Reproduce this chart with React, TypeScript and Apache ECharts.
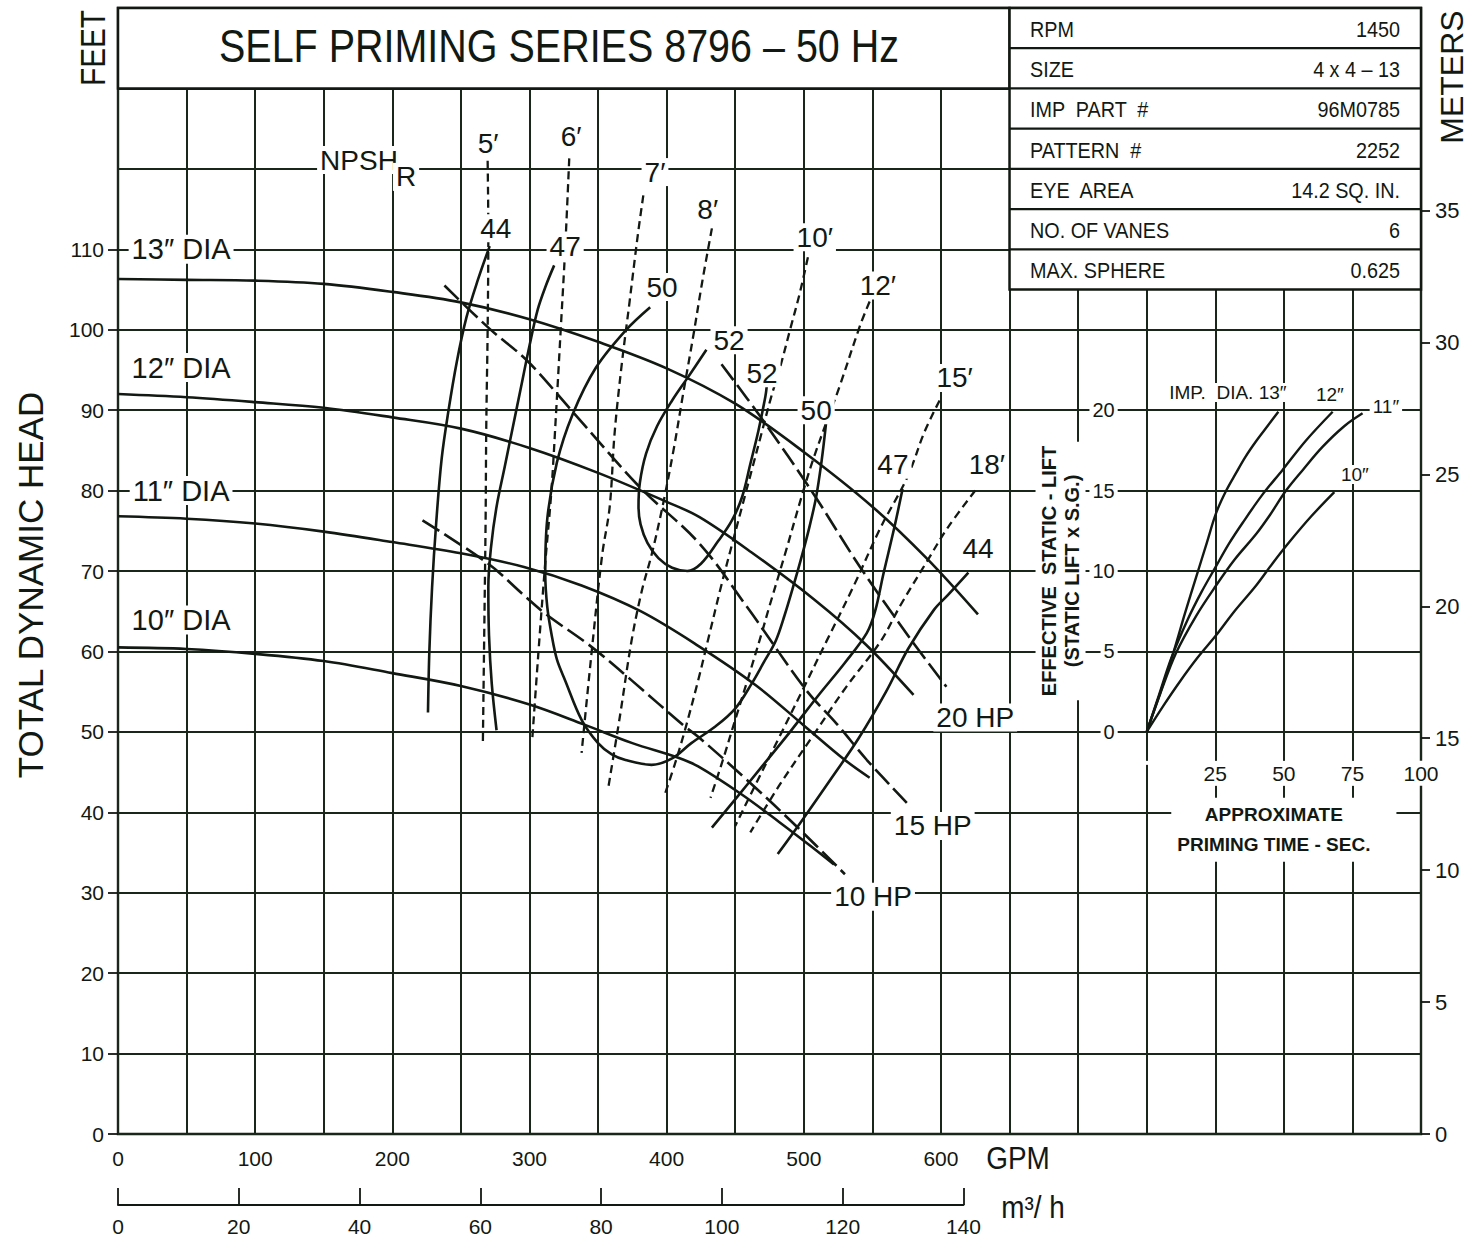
import React, { useEffect, useRef } from "react";
import * as echarts from "echarts";

// ---------- DATA (GPM, feet) ----------
const HEAD_13 = [[0,106.3],[50,106.2],[100,106.1],[150,105.7],[200,104.7],[250,103.4],[300,101.3],[350,98.5],[400,95.2],[450,90.8],[500,84.8],[550,78],[590,71.5],[627,64.6]];
const HEAD_12 = [[0,92],[50,91.6],[100,91],[150,90.3],[200,89.1],[250,87.7],[300,85.3],[350,82.2],[400,78.6],[424,76.7],[462,72.3],[508,66.4],[545,60.9],[580,54.6]];
const HEAD_11 = [[0,76.8],[50,76.5],[100,75.9],[150,74.9],[200,73.6],[250,72.2],[296,70.5],[338,68.2],[381,65],[423,60.7],[465,55.8],[500,50.8],[530,46.5],[548,44.3]];
const HEAD_10 = [[0,60.5],[50,60.3],[100,59.7],[150,58.8],[200,57.3],[250,55.7],[300,53.4],[340,50.9],[375,48.6],[408,46.8],[423,45.7],[454,42.3],[482,38.8],[505,35.8],[522,33.5]];

const EFF_44_LEFT = [[226,52.4],[227,60],[229,68],[232,76],[236,84],[241,90],[247,96],[254,101.5],[262,106],[271,110.4]];
const EFF_47_LEFT = [[276,50.2],[272.5,56],[270.5,62],[270,68],[272,73],[276,78],[282,83],[288,88],[294,93],[300,98],[306,102.5],[312,105.5],[318,108]];
const EFF_50 = [[388,102.8],[370,99.9],[348.5,95.3],[331.5,89.5],[320,83.5],[313,76.5],[311.5,69.7],[313,65.5],[316,62.2],[320,59],[326,56.4],[338,51.5],[350,48.6],[360,47.2],[370,46.5],[389,45.9],[404,46.7],[418,48.6],[435,50.6],[450,52.9],[462,56],[471,58.7],[479.5,61.3],[486,64.5],[492,67.9],[498,71.5],[504,75.4],[509,79.2],[513,83.7],[516,88],[517,90]];
const EFF_52 = [[429,97.5],[416,94.2],[404,91.2],[393,88],[385,84.6],[380.5,81],[379.5,78],[381,75.8],[386,73.5],[394,71.6],[404,70.4],[415,70],[425,70.9],[437.7,73.75],[447.5,76.25],[455,79.2],[461,83.3],[467,87.5],[472,91.7],[473,93]];
const EFF_47_RIGHT = [[433,38.1],[450,41.6],[470,45.8],[490,50],[510,54.4],[530,58.6],[546,62.3],[552,65],[558,69.6],[566,75.4],[572,80.2]];
const EFF_44_RIGHT = [[481,34.8],[500,39.3],[520,44.2],[540,49.2],[560,55],[576,60.3],[595,65.2],[605,67],[620,69.8]];

const NPSH_5 = [[269.5,121],[270,112],[269.5,100],[268.5,88],[268,76],[267,62],[266,48.3]];
const NPSH_6 = [[329,121.3],[326,110],[323,100.7],[319.5,90],[316,80],[311.5,71],[307,61],[302,49]];
const NPSH_7 = [[383,116.7],[379,111.8],[373,103.5],[367,95.3],[362,87],[358.5,78],[353,72],[345.5,60.2],[338,47.4]];
const NPSH_8 = [[433,112.6],[426,106],[419.6,99.4],[412,92],[405,85],[397,78],[389,72],[382,67.6],[374.5,61.4],[366,52],[357.6,43.2]];
const NPSH_10 = [[503,109],[497,104.5],[490,100],[483,95.5],[476,91.5],[469,87],[462,82.5],[455,78],[448,73.5],[440,68.3],[431,62],[423,56.4],[413,50],[406,46],[399,42.4]];
const NPSH_12 = [[548,103.5],[541,100.5],[526,92.9],[516.5,88.5],[506.6,83.75],[499,79.6],[487,72.5],[474.6,65.4],[469.7,62.5],[460,57],[450,51.5],[441,46.5],[432,41.8]];
const NPSH_15 = [[599,91.2],[588,87.3],[575.6,81.7],[556,75.4],[536,68],[516.5,61.25],[500,55.5],[482,49.3],[465,43.5],[450,38.3]];
const NPSH_18 = [[625,80],[605,75.4],[590,71.25],[570.7,65.8],[556,61.25],[531,55.6],[506.6,49.5],[482,43.3],[461,37.5]];

const HP_20 = [[440,95.7],[470,88.8],[507,79.6],[541,70.5],[578,61.5],[604,55.6]];
const HP_15 = [[238,105.5],[271,100.1],[298,96.2],[331.5,89.8],[380,80.5],[424,73.4],[460,65.2],[501.7,55.2],[524,51],[546,46.5],[576,41]];
const HP_10 = [[222,76.3],[270,70.9],[294.5,67.2],[311.5,64.7],[345,60.6],[374.5,56.4],[413,50.7],[423,49.4],[460,43.8],[495,38.2],[530,32.3]];

// priming inset (seconds, effective static lift)
const PRIME_13 = [[0,0],[4.5,2.2],[9.5,4.8],[14,7.4],[18,9.6],[22,11.8],[25.3,13.6],[29,15],[32.6,16.1],[36,17.1],[40,18.1],[44,19],[48,19.9]];
const PRIME_12 = [[0,0],[4.5,2.3],[9,4.6],[15,7],[20,8.7],[25.3,10.3],[30,11.7],[35,13],[42,14.7],[49.6,16.3],[58,18.1],[67.8,19.9]];
const PRIME_11 = [[0,0],[5,2.4],[10.7,4.9],[18,7.2],[25.3,9.1],[32,10.7],[39.9,12.3],[45,13.5],[50.8,15],[57,16.3],[64,17.7],[72,19],[78.7,19.8]];
const PRIME_10 = [[0,0],[6,1.6],[12,3.1],[18.5,4.6],[25.3,6],[32,7.5],[39.9,9.1],[46,10.5],[52,11.8],[60,13.4],[68.4,14.9]];

const DIA_LABELS: [number, number, string][] = [[46,110,"13″ DIA"],[46,95.3,"12″ DIA"],[46,80,"11″ DIA"],[46,63.9,"10″ DIA"]];
const EFF_LABELS: [number, number, string][] = [[275.5,112.6,"44"],[326,110.3,"47"],[396.6,105.3,"50"],[445.5,98.7,"52"],[469.5,94.6,"52"],[509,90,"50"],[565,83.2,"47"],[627,72.8,"44"]];
const NPSH_LABELS: [number, number, string][] = [[269.8,123.2,"5′"],[330.3,124,"6′"],[391.5,119.6,"7′"],[430,114.9,"8′"],[508,111.5,"10′"],[554,105.5,"12′"],[610,94,"15′"],[633.5,83.2,"18′"]];
const HP_LABELS: [number, number, string][] = [[625,51.8,"20 HP"],[594,38.3,"15 HP"],[550.5,29.5,"10 HP"]];
const NPSHR_TEXT: [number, number, string][] = [[175.7,121.1,"NPSH"],[210,119,"R"]];
const INSET_LABELS: [number, number, string][] = [[29.6,21.1,"IMP.  DIA. 13″"],[66.8,21,"12″"],[87.2,20.2,"11″"],[75.9,16,"10″"]];

const TABLE_ROWS: [string, string][] = [["RPM","1450"],["SIZE","4 x 4 – 13"],["IMP  PART  #","96M0785"],["PATTERN  #","2252"],["EYE  AREA","14.2 SQ. IN."],["NO. OF VANES","6"],["MAX. SPHERE","0.625"]];
const TITLE = "SELF PRIMING SERIES 8796 – 50 Hz";

const FONT = "Liberation Sans, Arial, Helvetica, sans-serif";
const INK = "#121812";
const GRIDC = "#1b261b";

// layout
const L = 118, R = 1421, T = 8, B = 1134;
const PXF = (B - T) / 140; // px per foot
const PXG = (R - L) / 950; // px per GPM

export default function App() {
  const ref = useRef<HTMLDivElement>(null);
  useEffect(() => {
    document.body.style.margin = "0";
    if (!ref.current) return;
    const chart = echarts.init(ref.current, undefined, { renderer: "svg" });

    const mkLine = (data: number[][], kind: string, xi = 0, yi = 0, w = 2.6) => ({
      type: "line",
      data,
      xAxisIndex: xi,
      yAxisIndex: yi,
      smooth: 0.35,
      symbol: "none",
      silent: true,
      z: 3,
      lineStyle: { color: INK, width: w, type: kind === "solid" ? "solid" : kind === "npsh" ? [8, 5] : [20, 6] },
    });
    const mkLabels = (arr: [number, number, string][], fontSize: number, xi = 0, yi = 0, extra: any = {}) => ({
      type: "scatter",
      xAxisIndex: xi,
      yAxisIndex: yi,
      silent: true,
      clip: false,
      symbol: "rect",
      symbolSize: 0.01,
      itemStyle: { color: "#fff", opacity: 1 },
      z: 10,
      data: arr.map(([x, y, t]) => ({ value: [x, y], label: { formatter: t } })),
      label: {
        show: true,
        position: "inside",
        color: INK,
        opacity: 1,
        fontSize,
        fontFamily: FONT,
        backgroundColor: "#fff",
        padding: [0, 3],
        ...extra,
      },
    });

    const hidden = (gi: number) => ({ gridIndex: gi, type: "value", show: false, min: 0, max: 1 });
    const noZero = { show: false, onZero: false };

    const meterMax = 35;
    const meterH = meterMax * 3.28084 * PXF;
    const insetL = L + 750 * PXG, insetT = B - 90 * PXF, insetB = B - 50 * PXF;

    const graphic: any[] = [];
    // title box
    graphic.push({ type: "rect", z: 50, shape: { x: L, y: T, width: 650 * PXG, height: 10 * PXF }, style: { fill: "#fff", stroke: INK, lineWidth: 2.5 } });
    graphic.push({ type: "text", z: 51, x: 559, y: 46, scaleX: 0.84, style: { text: TITLE, fontSize: 47, fontFamily: FONT, fill: INK, align: "center", verticalAlign: "middle" } });
    // spec table
    const tX = L + 650 * PXG;
    const rowH = 5 * PXF;
    graphic.push({ type: "rect", z: 50, shape: { x: tX, y: T, width: R - tX, height: rowH * 7 }, style: { fill: "#fff", stroke: INK, lineWidth: 2.5 } });
    TABLE_ROWS.forEach(([k, v], i) => {
      const yc = T + rowH * i + rowH / 2;
      if (i > 0) graphic.push({ type: "line", z: 51, shape: { x1: tX, y1: T + rowH * i, x2: R, y2: T + rowH * i }, style: { stroke: INK, lineWidth: 2.2 } });
      graphic.push({ type: "text", z: 52, x: 1030, y: yc + 1, scaleX: 0.9, style: { text: k, fontSize: 22, fontFamily: FONT, fill: INK, align: "left", verticalAlign: "middle" } });
      graphic.push({ type: "text", z: 52, x: 1400, y: yc + 1, scaleX: 0.9, style: { text: v, fontSize: 22, fontFamily: FONT, fill: INK, align: "right", verticalAlign: "middle" } });
    });
    graphic.push({ type: "text", z: 52, x: 93, y: 48, rotation: Math.PI / 2, scaleX: 0.85, style: { text: "FEET", fontSize: 35, fontFamily: FONT, fill: INK, align: "center", verticalAlign: "middle" } });
    graphic.push({ type: "text", z: 52, x: 1452, y: 77, rotation: Math.PI / 2, style: { text: "METERS", fontSize: 32, fontFamily: FONT, fill: INK, align: "center", verticalAlign: "middle" } });
    graphic.push({ type: "text", z: 52, x: 30, y: 585, rotation: Math.PI / 2, style: { text: "TOTAL DYNAMIC HEAD", fontSize: 35, fontFamily: FONT, fill: INK, align: "center", verticalAlign: "middle" } });
    graphic.push({ type: "text", z: 52, x: 1018, y: 1158, scaleX: 0.9, style: { text: "GPM", fontSize: 31, fontFamily: FONT, fill: INK, align: "center", verticalAlign: "middle" } });
    graphic.push({ type: "text", z: 52, x: 1033, y: 1207, scaleX: 0.9, style: { text: "m³/ h", fontSize: 31, fontFamily: FONT, fill: INK, align: "center", verticalAlign: "middle" } });

    const option: any = {
      animation: false,
      backgroundColor: "#fff",
      textStyle: { fontFamily: FONT, color: INK },
      grid: [
        { left: L, top: T, width: R - L, height: B - T, show: true, borderColor: INK, borderWidth: 2.4, backgroundColor: "transparent" },
        { left: L, top: B - 110 * PXF, width: R - L, height: 110 * PXF },
        { left: L, top: B - meterH, width: R - L, height: meterH },
        { left: L, top: T, width: 600 * PXG, height: B - T },
        { left: L, top: 1150, width: 140 * 4.40287 * PXG, height: 55 },
        { left: insetL, top: insetT, width: R - insetL, height: insetB - insetT },
      ],
      xAxis: [
        { gridIndex: 0, type: "value", min: 0, max: 950, interval: 50, axisLine: noZero, axisTick: { show: false }, axisLabel: { show: false }, splitLine: { show: true, lineStyle: { color: GRIDC, width: 2 } } },
        hidden(1),
        hidden(2),
        { gridIndex: 3, type: "value", min: 0, max: 600, interval: 100, axisLine: noZero, axisTick: { show: false }, splitLine: { show: false }, axisLabel: { fontSize: 21, color: INK, margin: 14, fontFamily: FONT } },
        { gridIndex: 4, type: "value", min: 0, max: 140, interval: 20, axisLine: { show: true, onZero: false, lineStyle: { color: INK, width: 2 } }, axisTick: { show: true, inside: true, length: 17, lineStyle: { color: INK, width: 1.8 } }, splitLine: { show: false }, axisLabel: { fontSize: 21, color: INK, margin: 11, fontFamily: FONT } },
        {
          gridIndex: 5, type: "value", min: 0, max: 100, interval: 25, z: 6,
          axisLine: noZero, axisTick: { show: false }, splitLine: { show: false },
          axisLabel: { fontSize: 21, color: INK, margin: 29, fontFamily: FONT, backgroundColor: "#fff", padding: [2, 3], formatter: (v: number) => (v === 0 ? "" : String(v)) },
          name: "APPROXIMATE\nPRIMING TIME - SEC.", nameLocation: "middle", nameGap: 66,
          nameTextStyle: { fontSize: 19, fontWeight: "bold", color: INK, lineHeight: 30, backgroundColor: "#fff", padding: [2, 26, 2, 6], fontFamily: FONT },
        },
      ],
      yAxis: [
        { gridIndex: 0, type: "value", min: 0, max: 140, interval: 10, axisLine: noZero, axisTick: { show: false }, axisLabel: { show: false }, splitLine: { show: true, lineStyle: { color: GRIDC, width: 2 } } },
        { gridIndex: 1, type: "value", min: 0, max: 110, interval: 10, axisLine: noZero, axisTick: { show: true, length: 10, lineStyle: { color: INK, width: 1.8 } }, splitLine: { show: false }, axisLabel: { fontSize: 21, color: INK, margin: 14, fontFamily: FONT } },
        { gridIndex: 2, type: "value", position: "right", min: 0, max: meterMax, interval: 5, axisLine: noZero, axisTick: { show: true, length: 9, lineStyle: { color: INK, width: 1.8 } }, splitLine: { show: false }, axisLabel: { fontSize: 22, color: INK, margin: 14, fontFamily: FONT } },
        hidden(3),
        hidden(4),
        {
          gridIndex: 5, type: "value", min: 0, max: 20, interval: 5, z: 6,
          axisLine: noZero, axisTick: { show: false }, splitLine: { show: false },
          axisLabel: { fontSize: 20, color: INK, margin: 29, fontFamily: FONT, backgroundColor: "#fff", padding: [0, 3] },
          name: "EFFECTIVE  STATIC - LIFT\n(STATIC LIFT x S.G.)", nameLocation: "middle", nameRotate: 90, nameGap: 61,
          nameTextStyle: { fontSize: 20, fontWeight: "bold", color: INK, lineHeight: 23, backgroundColor: "#fff", padding: [2, 4], fontFamily: FONT },
        },
      ],
      series: [
        mkLine(HEAD_13, "solid"), mkLine(HEAD_12, "solid"), mkLine(HEAD_11, "solid"), mkLine(HEAD_10, "solid"),
        mkLine(EFF_44_LEFT, "solid"), mkLine(EFF_47_LEFT, "solid"), mkLine(EFF_50, "solid"), mkLine(EFF_52, "solid"),
        mkLine(EFF_47_RIGHT, "solid"), mkLine(EFF_44_RIGHT, "solid"),
        mkLine(NPSH_5, "npsh", 0, 0, 2.3), mkLine(NPSH_6, "npsh", 0, 0, 2.3), mkLine(NPSH_7, "npsh", 0, 0, 2.3), mkLine(NPSH_8, "npsh", 0, 0, 2.3),
        mkLine(NPSH_10, "npsh", 0, 0, 2.3), mkLine(NPSH_12, "npsh", 0, 0, 2.3), mkLine(NPSH_15, "npsh", 0, 0, 2.3), mkLine(NPSH_18, "npsh", 0, 0, 2.3),
        mkLine(HP_20, "hp"), mkLine(HP_15, "hp"), mkLine(HP_10, "hp"),
        mkLine(PRIME_13, "solid", 5, 5, 2.4), mkLine(PRIME_12, "solid", 5, 5, 2.4), mkLine(PRIME_11, "solid", 5, 5, 2.4), mkLine(PRIME_10, "solid", 5, 5, 2.4),
        mkLabels(DIA_LABELS, 29),
        mkLabels(EFF_LABELS, 28),
        mkLabels(NPSH_LABELS, 28),
        mkLabels(HP_LABELS, 28),
        mkLabels(NPSHR_TEXT, 28),
        mkLabels(INSET_LABELS, 19, 5, 5),
      ],
      graphic,
    };
    chart.setOption(option);
    return () => chart.dispose();
  }, []);
  return <div ref={ref} style={{ width: 1471, height: 1249 }} />;
}
